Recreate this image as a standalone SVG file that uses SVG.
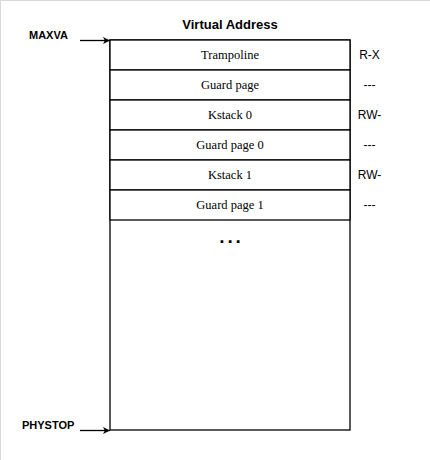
<svg xmlns="http://www.w3.org/2000/svg" width="430" height="460" viewBox="0 0 430 460">
<defs>
<marker id="arr" markerWidth="8" markerHeight="8" refX="7" refY="4" orient="auto" markerUnits="userSpaceOnUse">
<path d="M0,0.5 L7,4 L0,7.5 L1.8,4 Z" fill="#000"/>
</marker>
</defs>
<style>
.row{fill:#fff;stroke:#000;stroke-width:1.3}
.lbl{font-family:"Liberation Serif","Times New Roman",serif;font-size:12.5px;fill:#000;text-anchor:middle}
.perm{font-family:"Liberation Sans",Arial,sans-serif;font-size:12px;fill:#000;text-anchor:middle}
.bold{font-family:"Liberation Sans",Arial,sans-serif;font-size:11px;font-weight:bold;fill:#000}
.conn{stroke:#000;stroke-width:1.3;fill:none;marker-end:url(#arr)}
</style>
<rect x="0" y="0" width="430" height="460" fill="#fff"/>
<line x1="0" y1="0.5" x2="430" y2="0.5" stroke="#d9d9d9" stroke-width="1"/>
<line x1="0.5" y1="0" x2="0.5" y2="460" stroke="#d9d9d9" stroke-width="1"/>
<text x="230" y="29" class="bold" style="font-size:13px" text-anchor="middle">Virtual Address</text>
<g id="memory">
<rect class="row" x="110" y="40" width="240" height="390"/>
</g>
<g id="trampoline"><rect class="row" x="110" y="40" width="240" height="30"/><text class="lbl" x="230" y="59">Trampoline</text><text class="perm" x="369.5" y="59">R-X</text></g>
<g id="guard"><rect class="row" x="110" y="70" width="240" height="30"/><text class="lbl" x="230" y="89">Guard page</text><text class="perm" x="369.5" y="89">---</text></g>
<g id="kstack0"><rect class="row" x="110" y="100" width="240" height="30"/><text class="lbl" x="230" y="119">Kstack 0</text><text class="perm" x="369.5" y="119">RW-</text></g>
<g id="guard0"><rect class="row" x="110" y="130" width="240" height="30"/><text class="lbl" x="230" y="149">Guard page 0</text><text class="perm" x="369.5" y="149">---</text></g>
<g id="kstack1"><rect class="row" x="110" y="160" width="240" height="30"/><text class="lbl" x="230" y="179">Kstack 1</text><text class="perm" x="369.5" y="179">RW-</text></g>
<g id="guard1"><rect class="row" x="110" y="190" width="240" height="30"/><text class="lbl" x="230" y="209">Guard page 1</text><text class="perm" x="369.5" y="209">---</text></g>
<text x="219.3" y="243" style="font-family:'Liberation Sans',Arial,sans-serif;font-size:19px;font-weight:bold;letter-spacing:2.8px;fill:#000">...</text>
<g id="maxva"><text class="bold" x="29" y="39">MAXVA</text></g>
<g id="phystop"><text class="bold" x="22" y="429">PHYSTOP</text></g>
<g id="connectors">
<line class="conn" x1="80" y1="40.5" x2="110" y2="40.5"/>
<line class="conn" x1="80" y1="430.5" x2="110" y2="430.5"/>
</g>
</svg>
